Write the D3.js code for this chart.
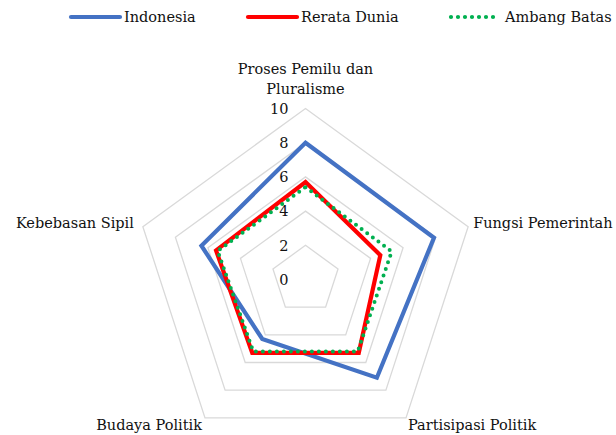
<!DOCTYPE html>
<html>
    <head>
        <title>Radar indeks demokrasi</title>
        <meta charset="UTF-8">
        <script src="https://cdnjs.cloudflare.com/ajax/libs/d3/7.9.0/d3.min.js"></script>
        <style>
            html, body {
                margin: 0;
                padding: 0;
                background: #fff;
            }
            svg text {
                font-family: "DejaVu Serif", serif;
                font-size: 14.5px;
                fill: #111;
            }
        </style>
    </head>
    <body>
        <div id="chart"></div>
        <script>
            // data
            var categories = ["Proses Pemilu dan Pluralisme", "Fungsi Pemerintah", "Partisipasi Politik", "Budaya Politik", "Kebebasan Sipil"];
            var indonesia = [8.0, 7.9, 7.1, 4.3, 6.4];
            var rerataDunia = [5.7, 4.6, 5.3, 5.3, 5.5];
            var ambangBatas = [5.4, 5.3, 5.2, 5.2, 5.4];
            var ticks = [0, 2, 4, 6, 8, 10];
            var seriesNames = ["Indonesia", "Rerata Dunia", "Ambang Batas"];

            let w = 616, h = 435;
            let cx = 305.5, cy = 279.5;

            let svg = d3.select("#chart").append("svg")
                    .attr("width", w)
                    .attr("height", h);

            let r = d3.scaleLinear().domain([0, 10]).range([0, 171]);
            let angle = d3.scaleLinear().domain([0, categories.length]).range([0, 2 * Math.PI]);

            function pt(i, v){
                let a = angle(i) - Math.PI / 2;
                return [cx + r(v) * Math.cos(a), cy + r(v) * Math.sin(a)];
            }

            let line = d3.line().curve(d3.curveLinearClosed);

            // grid pentagons
            let g = svg.append("g");
            ticks.filter(t => t > 0).forEach(function(t){
                g.append("path")
                    .attr("d", line(categories.map((c, i) => pt(i, t))))
                    .attr("fill", "none")
                    .attr("stroke", "#d9d9d9")
                    .attr("stroke-width", 1.3);
            });

            // tick labels
            ticks.forEach(function(t){
                svg.append("text")
                    .attr("x", cx - 17)
                    .attr("y", cy - r(t))
                    .attr("dy", "0.36em")
                    .style("text-anchor", "end")
                    .text(t);
            });

            let series = [
                {name: seriesNames[0], values: indonesia, color: "#4472C4", dash: null},
                {name: seriesNames[1], values: rerataDunia, color: "#FF0000", dash: null},
                {name: seriesNames[2], values: ambangBatas, color: "#00B050", dash: "0 7"}
            ];

            series.forEach(function(s){
                svg.append("path")
                    .attr("d", line(s.values.map((v, i) => pt(i, v))))
                    .attr("fill", "none")
                    .attr("stroke", s.color)
                    .attr("stroke-width", s.dash ? 4 : 4.2)
                    .attr("stroke-linejoin", "miter")
                    .attr("stroke-linecap", s.dash ? "round" : "butt")
                    .attr("stroke-dasharray", s.dash);
            });

            // category labels
            let topLabel = svg.append("text")
                .attr("x", cx)
                .attr("y", 74)
                .style("text-anchor", "middle");
            topLabel.append("tspan").attr("x", cx).text("Proses Pemilu dan");
            topLabel.append("tspan").attr("x", cx).attr("dy", 20).text("Pluralisme");

            let p1 = pt(1, 10), p2 = pt(2, 10), p3 = pt(3, 10), p4 = pt(4, 10);
            svg.append("text").attr("x", p1[0] + 5).attr("y", p1[1] + 1).style("text-anchor", "start").text(categories[1]);
            svg.append("text").attr("x", p2[0] + 2).attr("y", p2[1] + 12).style("text-anchor", "start").text(categories[2]);
            svg.append("text").attr("x", p3[0] - 3).attr("y", p3[1] + 12).style("text-anchor", "end").text(categories[3]);
            svg.append("text").attr("x", p4[0] - 9).attr("y", p4[1] + 1).style("text-anchor", "end").text(categories[4]);

            // legend
            let legendX = [71, 248, 451];
            series.forEach(function(s, i){
                let lg = svg.append("g").attr("transform", "translate(" + legendX[i] + ",17)");
                lg.append("line")
                    .attr("x1", 0).attr("x2", 49)
                    .attr("y1", 0).attr("y2", 0)
                    .attr("stroke", s.color)
                    .attr("stroke-width", 4.2)
                    .attr("stroke-linecap", "round")
                    .attr("stroke-dasharray", s.dash);
                lg.append("text")
                    .attr("x", i == 2 ? 54 : 53)
                    .attr("y", 0)
                    .attr("dy", "0.36em")
                    .text(s.name);
            });
        </script>
    </body>
</html>
